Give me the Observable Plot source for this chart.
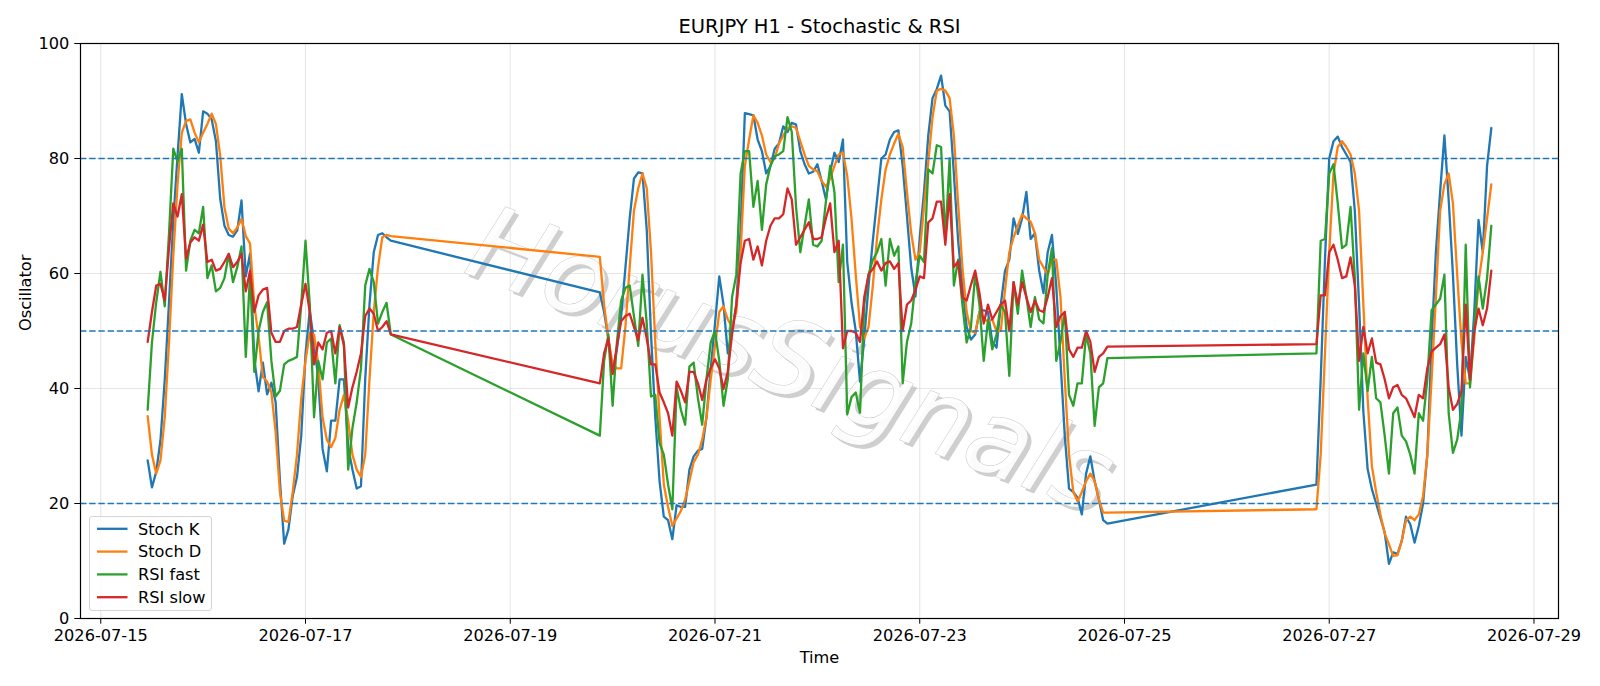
<!DOCTYPE html>
<html>
<head>
<meta charset="utf-8">
<script src="https://cdn.jsdelivr.net/npm/d3@7"></script>
<script src="https://cdn.jsdelivr.net/npm/@observablehq/plot@0.6"></script>
<style>
html, body { margin: 0; padding: 0; background: #fff; }
#wrap { position: relative; width: 1600px; height: 686px; font-family: "DejaVu Sans", sans-serif; }
#legend { position: absolute; left: 89px; top: 516px; width: 123px; height: 95px; box-sizing: border-box;
  border: 1px solid #d4d4d4; border-radius: 3px; background: rgba(255,255,255,0.8); }
#legend svg { position: absolute; left: -1px; top: -1px; }
</style>
</head>
<body>
<div id="wrap"></div>
<script>
// ---- data (hourly H1 bars; segments separated by weekend gaps) ----
const segmentStarts = ["2026-07-15T11:00:00Z", "2026-07-19T21:00:00Z", "2026-07-26T21:00:00Z"];
const segmentLengths = [58, 120, 42];

const stochK = [
  27.5, 22.8, 25.5, 31, 41.5, 55, 69, 80.5, 91.2, 86,
  82.8, 83.4, 81, 88.2, 87.8, 86.8, 83, 73, 68.3, 66.7,
  66.4, 67.5, 72.7, 59.5, 63.5, 45, 39.5, 44.5, 39, 41,
  37.6, 24, 13, 15.5, 21.3, 24.6, 31.8, 46, 53.6, 48,
  41.6, 29.5, 25.6, 34.4, 34.4, 41.6, 41.6, 29.8, 25.9, 22.6,
  23, 41.6, 54.6, 63.7, 66.7, 67, 66.3, 65.7,
  56.7, 53.3, 48.7, 42.9, 46.8, 52.6, 61, 69.6, 76.5, 77.6,
  77.4, 67.6, 49.4, 35, 23.9, 17.7, 17.1, 13.8, 19.7, 19.4,
  19.4, 25.9, 28.2, 29.2, 29.5, 35, 43.5, 51.3, 59.5, 54.6,
  46.1, 50, 54.6, 67.6, 87.9, 87.7, 87.5, 83.3, 81.3, 77.4,
  78.7, 81.7, 82.6, 85.6, 84.6, 86.2, 85.9, 81.3, 79, 77.4,
  77.7, 79, 76.1, 72.9, 77.7, 81, 79.4, 83.3, 62, 55,
  50, 41.2, 48.7, 57.9, 65.7, 72.9, 80, 80.7, 83.3, 84.6,
  84.9, 78.7, 70, 61, 56, 66.3, 74.2, 84, 90.5, 92.1,
  94.4, 89.2, 88.2, 77.4, 65.7, 57.9, 50.7, 48.5, 49.4, 53.3,
  53.6, 53.3, 48.1, 47.1, 54.6, 60.5, 62.4, 69.6, 66.9, 69.6,
  74.2, 66, 67, 60.5, 56.6, 63.7, 66.7, 57.9, 44.8, 31.8,
  22.6, 22, 21, 18.1, 25.2, 28.2, 23.9, 20.7, 17.1, 16.5,
  23.3, 41.6, 62.4, 80, 83, 83.8, 82, 80.7, 79.4, 70.9,
  54.6, 36, 26, 22.5, 20, 17.5, 15, 9.5, 11.5, 11.2,
  13.5, 17.7, 16.4, 13.2, 16.1, 20, 28.5, 48.1, 63.7, 74.2,
  84, 72.9, 59.8, 44.2, 31.8, 45.5, 41.6, 53.3, 69.3, 63.7,
  78.7, 85.3
];

const stochD = [
  35.2, 28.5, 25.2, 27.5, 35, 48, 63, 75.5, 84.5, 86.5,
  86.8, 84.5, 82.8, 84.5, 86, 87.8, 86, 80.5, 71.5, 67.8,
  67, 68, 69.5, 66.5, 65.2, 54.5, 49, 42, 41.2, 39.3,
  32.4, 22, 17, 16.8, 22, 28.5, 38.3, 44.8, 49.7, 49.4,
  44.2, 35, 31.1, 29.8, 31.4, 36.3, 38.9, 34.4, 28.5, 25.9,
  24.6, 28.5, 41.6, 53.3, 61.1, 66.3, 66.7, 66.5,
  62.9, 54.6, 48.7, 44.2, 43.5, 43.5, 50.7, 61.1, 70.9, 74.8,
  77.4, 74.8, 63.7, 48, 35, 23.3, 19.4, 16.1, 17.4, 18.7,
  20.7, 23.9, 27.2, 28.5, 31.1, 35, 41.6, 47.4, 53.3, 54.3,
  52, 50.7, 53.3, 63.7, 78.7, 83.3, 87.5, 86.2, 84, 80.7,
  79.4, 80, 82.6, 84, 85.3, 85.6, 85.3, 83, 80.7, 78.7,
  78.1, 77.8, 76.1, 75.1, 76.5, 78.7, 80.7, 81, 77, 69.6,
  59.8, 50.7, 48.7, 50.7, 57.9, 66.3, 72.9, 78.1, 80.7, 82.6,
  84.3, 82, 74.2, 67, 62.4, 63.7, 71.6, 79.4, 87.2, 91.8,
  92.1, 91.8, 90.5, 84, 72.2, 61.1, 53.3, 50, 49.7, 53.3,
  52, 51.7, 52, 50, 50, 57.2, 63.7, 66.3, 68.3, 70.3,
  69.6, 69, 67, 62.4, 61.1, 59.8, 62.4, 62.4, 55.9, 41.6,
  28.5, 22, 20.4, 22, 23.9, 25.2, 23.9, 20.7, 18.4, 18.4,
  19, 28.5, 46.1, 63.7, 77.4, 82, 83, 82, 80.7, 77.4,
  70.9, 54.6, 38.3, 26.5, 22, 18.1, 14.8, 12.9, 10.9, 11,
  13.5, 17.1, 17.7, 17.1, 18.1, 21.3, 28.5, 41.6, 55.9, 70.9,
  75.5, 77.4, 72.2, 59.8, 48.1, 40.9, 40.9, 48.7, 58.5, 63.7,
  69.6, 75.5
];

const rsiFast = [
  36.3, 48, 55, 60.3, 54.3, 67, 81.7, 79.4, 81.7, 60.5,
  65.7, 67.6, 67, 71.6, 59.2, 61.4, 56.9, 57.5, 59.2, 63.4,
  58.5, 61.1, 64.7, 45.5, 59.8, 42.9, 50, 53.3, 55, 44.8,
  38.6, 39.6, 44.2, 44.8, 45.1, 45.5, 54.6, 65.7, 54.6, 35,
  44.8, 41.6, 48, 48.7, 40.9, 51, 48, 25.9, 33.1, 37.6,
  43.5, 57.9, 60.8, 58.5, 51.3, 53.3, 54.9, 49.4,
  31.8, 44.8, 49.4, 37, 48, 55.3, 57.5, 57.9, 52.6, 47.4,
  59.8, 51.3, 38.6, 38.9, 30.5, 28.5, 23.3, 19, 40.2, 36.3,
  33.7, 43.8, 44.5, 38.3, 33.7, 41.6, 48, 50, 44.8, 37,
  41.6, 55.9, 59.8, 77.4, 81.3, 81.3, 71.6, 76.1, 67.6, 75.5,
  78.7, 80.4, 80.7, 81.3, 87.2, 84.6, 71.6, 63.7, 68.3, 72.9,
  65, 64.7, 65.7, 72.5, 78.7, 74.2, 58.5, 65, 35.5, 38.5,
  39.3, 35.8, 54.6, 59.8, 62.4, 63.7, 66, 57.9, 66, 63.1,
  64.7, 40.9, 48.1, 51.3, 58.5, 63.1, 62, 78.1, 77.4, 82.3,
  82, 66, 80, 57.9, 62.4, 54.6, 48, 50.7, 60, 54.6,
  44.8, 52, 46.8, 49.4, 54.6, 53.3, 42.2, 58.5, 53, 60.5,
  55.9, 50.7, 55.9, 52, 51.3, 59.8, 64.4, 44.8, 48.1, 53.3,
  38.9, 37, 40.9, 40.9, 49.4, 46.1, 33.5, 40.2, 40.9, 45.3,
  46.1, 65.7, 66, 77.4, 79, 72.2, 64.4, 65, 71.6, 59.2,
  36.3, 46.1, 39.6, 45.5, 38.3, 37.6, 31.8, 25.2, 35.7, 36.7,
  31.8, 30.8, 28.5, 25.2, 35.7, 34.4, 41.6, 53.6, 54.6, 55.6,
  59.8, 35.7, 28.8, 31.1, 36.3, 65, 40.2, 50.7, 59.5, 53.9,
  59.2, 68.3
];

const rsiSlow = [
  48.1, 53.3, 57.9, 58.2, 55.3, 64.4, 72.2, 69.9, 73.8, 62.6,
  65.4, 66.3, 65.7, 68.5, 62, 62.4, 60.5, 60.8, 62, 63.4,
  61.1, 62, 63.4, 56.9, 60.5, 53.3, 56.2, 57.2, 57.5, 49.7,
  48.1, 48.1, 50, 50.4, 50.4, 50.7, 54.6, 58.2, 53.3, 44.2,
  48, 46.8, 49.7, 50, 46.1, 50.7, 47.5, 36.7, 40.2, 42.9,
  46.1, 52.6, 53.9, 53, 50, 50.7, 51.7, 49.4,
  40.9, 46.1, 48.7, 42.5, 47.4, 51.7, 52.6, 53, 50.7, 48.4,
  52.3, 48.7, 44.2, 44.2, 39.3, 37.6, 35.7, 31.8, 41.2, 39.6,
  37.6, 42.9, 42.9, 40.9, 38, 41.6, 43.5, 45.1, 43.5, 39.9,
  42.9, 49.4, 54.6, 61.8, 65.7, 66, 62.4, 64.7, 61.4, 65.7,
  68.3, 69.6, 69.6, 70.3, 74.8, 72.9, 65, 66.3, 67.6, 68.9,
  66, 66, 66.3, 69.6, 72.2, 63.7, 65.7, 47, 50, 50,
  49.7, 48.1, 55.9, 59.8, 60.8, 62.1, 60.5, 61.8, 62.1, 60.8,
  61.8, 50, 54.6, 55.3, 57.2, 59.5, 59.2, 68.9, 69.6, 72.5,
  72.5, 65, 73.8, 61.1, 62.1, 55.9, 55.3, 58, 60.5, 56.6,
  51.3, 54.6, 52, 53.3, 54.6, 55.3, 50, 58.5, 54.6, 58.5,
  55.9, 53.3, 55.3, 53.6, 53.3, 55.9, 59.2, 50.7, 52.6, 53.3,
  46.8, 45.5, 47.1, 47.1, 50, 48.1, 42.9, 45.5, 46.1, 47.3,
  47.7, 56.2, 56.2, 63.7, 65, 62.4, 59.2, 59.5, 62.8, 57.9,
  44.8, 50.7, 46.1, 48.7, 44.5, 44.2, 41.6, 38.3, 40.2, 40.6,
  38.9, 38.3, 36.7, 35, 38.9, 38.3, 43.5, 46.4, 47.1, 47.7,
  49.4, 40.2, 36.3, 37.3, 39.6, 54.6, 41.6, 50, 53.9, 51,
  53.9, 60.5
];

const seriesNames = ["Stoch K", "Stoch D", "RSI fast", "RSI slow"];
const seriesColors = ["#1f77b4", "#ff7f0e", "#2ca02c", "#d62728"];
const levels = [80, 50, 20];
const xTickLabels = ["2026-07-15", "2026-07-17", "2026-07-19", "2026-07-21", "2026-07-23", "2026-07-25", "2026-07-27", "2026-07-29"];
const yTicks = [0, 20, 40, 60, 80, 100];
const titleText = "EURJPY H1 - Stochastic & RSI";
const xLabel = "Time";
const yLabel = "Oscillator";
const watermark = "HorusSignals";

// ---- build table ----
const times = [];
segmentStarts.forEach((s, i) => {
  const t0 = new Date(s);
  for (let k = 0; k < segmentLengths[i]; k++) times.push(new Date(+t0 + k * 3600e3));
});
const allSeries = [stochK, stochD, rsiFast, rsiSlow];
const rows = [];
allSeries.forEach((vals, si) => vals.forEach((v, i) => rows.push({time: times[i], value: v, name: seriesNames[si]})));

const tMin = d3.min(times), tMax = d3.max(times);
const pad = (tMax - tMin) * 0.05;
const xDomain = [new Date(+tMin - pad), new Date(+tMax + pad)];
const xTicks = xTickLabels.map(s => new Date(s + "T00:00:00Z"));

const font = '"DejaVu Sans", sans-serif';
const fs = 16.2;

const chart = Plot.plot({
  width: 1600,
  height: 686,
  marginTop: 43,
  marginBottom: 68,
  marginLeft: 80,
  marginRight: 42,
  style: {fontFamily: font, fontSize: fs + "px", color: "#000", background: "#fff"},
  x: {type: "utc", domain: xDomain},
  y: {domain: [0, 100]},
  color: {domain: seriesNames, range: seriesColors},
  marks: [
    Plot.gridX(xTicks, {stroke: "#b0b0b0", strokeOpacity: 0.32, strokeWidth: 1.1}),
    Plot.gridY(yTicks, {stroke: "#b0b0b0", strokeOpacity: 0.32, strokeWidth: 1.1}),
    Plot.text([watermark], {frameAnchor: "middle", dx: -25, dy: 35, rotate: 21, fontSize: 104, fontStyle: "italic",
      fontFamily: font, fill: "#bfbfbf", fillOpacity: 0.75}),
    Plot.text([watermark], {frameAnchor: "middle", dx: -29, dy: 31, rotate: 21, fontSize: 104, fontStyle: "italic",
      fontFamily: font, fill: "#ffffff", fillOpacity: 0.92, stroke: "#c9c9c9", strokeWidth: 1}),
    Plot.line(rows, {x: "time", y: "value", z: "name", stroke: "name", strokeWidth: 2.3}),
    Plot.ruleY(levels, {stroke: "#1f77b4", strokeWidth: 1.3, strokeDasharray: "6.4,2.8"}),
    Plot.frame({stroke: "#000", strokeWidth: 1.2}),
    Plot.axisX(xTicks, {tickFormat: d3.utcFormat("%Y-%m-%d"), tickSize: 5.7, tickPadding: 5, label: null, fontSize: fs}),
    Plot.axisY(yTicks, {tickSize: 5.7, tickPadding: 5.5, label: null, fontSize: fs}),
    Plot.text([titleText], {frameAnchor: "top", dy: -17, lineAnchor: "middle", fontSize: 19.5, fill: "#000"}),
    Plot.text([xLabel], {frameAnchor: "bottom", dy: 39, lineAnchor: "middle", fontSize: fs, fill: "#000"}),
    Plot.text([yLabel], {frameAnchor: "left", dx: -55, rotate: -90, lineAnchor: "middle", fontSize: fs, fill: "#000"})
  ]
});

const wrap = document.getElementById("wrap");
wrap.appendChild(chart);

// ---- legend (matplotlib-style box, lower left) ----
const legend = document.createElement("div");
legend.id = "legend";
const ns = "http://www.w3.org/2000/svg";
const lsvg = document.createElementNS(ns, "svg");
lsvg.setAttribute("width", 124);
lsvg.setAttribute("height", 96);
seriesNames.forEach((name, i) => {
  const cy = 12.8 + i * 22.8;
  const ln = document.createElementNS(ns, "line");
  ln.setAttribute("x1", 8); ln.setAttribute("x2", 38.5);
  ln.setAttribute("y1", cy); ln.setAttribute("y2", cy);
  ln.setAttribute("stroke", seriesColors[i]);
  ln.setAttribute("stroke-width", 2.3);
  lsvg.appendChild(ln);
  const tx = document.createElementNS(ns, "text");
  tx.setAttribute("x", 49); tx.setAttribute("y", cy);
  tx.setAttribute("dy", "0.36em");
  tx.setAttribute("font-family", font);
  tx.setAttribute("font-size", fs);
  tx.setAttribute("fill", "#000");
  tx.textContent = name;
  lsvg.appendChild(tx);
});
legend.appendChild(lsvg);
wrap.appendChild(legend);
</script>
</body>
</html>
